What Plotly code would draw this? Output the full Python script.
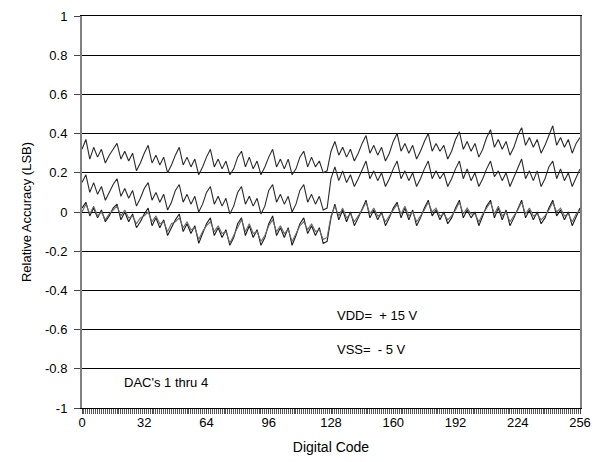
import plotly.graph_objects as go

CODES = list(range(0, 257, 2))

DAC1 = [
    0.32, 0.37, 0.27, 0.33, 0.28, 0.32, 0.25, 0.29,
    0.32, 0.35, 0.27, 0.31, 0.26, 0.30, 0.21, 0.25,
    0.30, 0.34, 0.25, 0.29, 0.24, 0.28, 0.20, 0.24,
    0.29, 0.33, 0.24, 0.28, 0.23, 0.27, 0.19, 0.23,
    0.28, 0.32, 0.23, 0.27, 0.22, 0.26, 0.19, 0.22,
    0.28, 0.31, 0.23, 0.28, 0.22, 0.26, 0.19, 0.23,
    0.28, 0.32, 0.23, 0.27, 0.22, 0.27, 0.19, 0.22,
    0.28, 0.31, 0.23, 0.28, 0.23, 0.26, 0.20, 0.21,
    0.31, 0.36, 0.29, 0.33, 0.28, 0.32, 0.26, 0.30,
    0.35, 0.39, 0.30, 0.34, 0.29, 0.33, 0.26, 0.30,
    0.36, 0.40, 0.31, 0.35, 0.30, 0.34, 0.27, 0.31,
    0.36, 0.40, 0.31, 0.35, 0.31, 0.34, 0.27, 0.31,
    0.37, 0.41, 0.32, 0.36, 0.31, 0.35, 0.28, 0.32,
    0.38, 0.42, 0.33, 0.37, 0.32, 0.36, 0.29, 0.33,
    0.39, 0.43, 0.34, 0.38, 0.33, 0.37, 0.30, 0.34,
    0.39, 0.44, 0.34, 0.38, 0.33, 0.37, 0.30, 0.35,
    0.38,
]

DAC2 = [
    0.15, 0.19, 0.10, 0.15, 0.09, 0.13, 0.06, 0.10,
    0.14, 0.17, 0.08, 0.12, 0.07, 0.11, 0.03, 0.07,
    0.12, 0.15, 0.06, 0.10, 0.05, 0.09, 0.01, 0.05,
    0.11, 0.14, 0.05, 0.09, 0.04, 0.08, 0.00, 0.04,
    0.10, 0.13, 0.04, 0.08, 0.03, 0.07, -0.01, 0.03,
    0.10, 0.13, 0.04, 0.08, 0.03, 0.07, -0.01, 0.03,
    0.11, 0.14, 0.05, 0.09, 0.04, 0.08, 0.00, 0.04,
    0.11, 0.14, 0.05, 0.09, 0.04, 0.08, 0.01, 0.02,
    0.17, 0.23, 0.16, 0.21, 0.15, 0.19, 0.13, 0.17,
    0.22, 0.26, 0.17, 0.21, 0.16, 0.20, 0.13, 0.17,
    0.22, 0.26, 0.17, 0.21, 0.16, 0.20, 0.13, 0.17,
    0.22, 0.26, 0.17, 0.21, 0.17, 0.20, 0.13, 0.17,
    0.22, 0.26, 0.17, 0.22, 0.16, 0.20, 0.13, 0.17,
    0.22, 0.26, 0.18, 0.21, 0.16, 0.20, 0.13, 0.18,
    0.22, 0.27, 0.17, 0.21, 0.16, 0.21, 0.13, 0.17,
    0.23, 0.26, 0.17, 0.22, 0.16, 0.20, 0.13, 0.18,
    0.22,
]

DAC3 = [
    0.02, 0.05, -0.02, 0.02, -0.03, 0.01, -0.05, -0.02,
    0.02, 0.04, -0.04, 0.00, -0.05, -0.01, -0.08, -0.05,
    -0.01, 0.02, -0.07, -0.03, -0.08, -0.04, -0.12, -0.08,
    -0.04, -0.01, -0.10, -0.06, -0.11, -0.07, -0.16, -0.11,
    -0.06, -0.03, -0.12, -0.08, -0.13, -0.09, -0.17, -0.13,
    -0.06, -0.03, -0.12, -0.07, -0.13, -0.09, -0.17, -0.13,
    -0.06, -0.02, -0.12, -0.08, -0.13, -0.08, -0.17, -0.12,
    -0.06, -0.03, -0.11, -0.07, -0.12, -0.08, -0.16, -0.15,
    -0.03, 0.04, -0.04, 0.01, -0.05, 0.00, -0.07, -0.03,
    0.02, 0.06, -0.03, 0.01, -0.04, 0.00, -0.07, -0.03,
    0.02, 0.05, -0.03, 0.02, -0.04, 0.01, -0.07, -0.03,
    0.02, 0.06, -0.02, 0.01, -0.04, 0.00, -0.06, -0.03,
    0.02, 0.06, -0.03, 0.01, -0.03, 0.00, -0.07, -0.02,
    0.03, 0.06, -0.03, 0.02, -0.04, 0.01, -0.07, -0.03,
    0.02, 0.06, -0.03, 0.01, -0.04, 0.00, -0.06, -0.03,
    0.02, 0.06, -0.02, 0.01, -0.04, 0.00, -0.07, -0.02,
    0.02,
]

DAC4 = [
    0.00, 0.04, -0.01, 0.03, -0.02, 0.00, -0.04, -0.01,
    0.01, 0.03, -0.02, 0.01, -0.03, -0.02, -0.06, -0.03,
    -0.02, 0.00, -0.05, -0.02, -0.06, -0.05, -0.10, -0.06,
    -0.05, -0.03, -0.08, -0.05, -0.09, -0.08, -0.14, -0.10,
    -0.07, -0.05, -0.10, -0.07, -0.11, -0.10, -0.16, -0.12,
    -0.08, -0.04, -0.10, -0.06, -0.11, -0.10, -0.15, -0.12,
    -0.07, -0.04, -0.10, -0.07, -0.11, -0.09, -0.15, -0.11,
    -0.07, -0.05, -0.09, -0.06, -0.10, -0.09, -0.14, -0.13,
    -0.02, 0.03, -0.02, 0.02, -0.03, -0.01, -0.05, -0.02,
    0.01, 0.05, -0.01, 0.02, -0.02, -0.01, -0.05, -0.02,
    0.01, 0.04, -0.01, 0.03, -0.02, 0.00, -0.05, -0.02,
    0.01, 0.05, 0.00, 0.02, -0.02, -0.01, -0.04, -0.02,
    0.01, 0.05, -0.01, 0.02, -0.01, -0.01, -0.05, -0.01,
    0.02, 0.05, -0.01, 0.03, -0.02, 0.00, -0.05, -0.02,
    0.01, 0.05, -0.01, 0.02, -0.02, -0.01, -0.04, -0.02,
    0.01, 0.05, 0.00, 0.02, -0.02, -0.01, -0.05, -0.01,
    0.01,
]

Y_TICKS = [1, 0.8, 0.6, 0.4, 0.2, 0, -0.2, -0.4, -0.6, -0.8, -1]
Y_LABELS = ["1", "0.8", "0.6", "0.4", "0.2", "0", "-0.2", "-0.4", "-0.6", "-0.8", "-1"]
X_TICKS = [0, 32, 64, 96, 128, 160, 192, 224, 256]

FONT = "Liberation Sans, Arial, sans-serif"

fig = go.Figure()
for ys, col in [(DAC1, "#2a2a2a"), (DAC2, "#2a2a2a"), (DAC3, "#1a1a1a"), (DAC4, "#6a6a6a")]:
    fig.add_trace(go.Scatter(x=CODES, y=ys, mode="lines",
                             line=dict(color=col, width=1.1), showlegend=False))

fig.add_annotation(x=130, y=-0.53, text="VDD=  + 15 V", showarrow=False,
                   xanchor="left", yanchor="middle", font=dict(size=13, color="black", family=FONT))
fig.add_annotation(x=130, y=-0.70, text="VSS=  - 5 V", showarrow=False,
                   xanchor="left", yanchor="middle", font=dict(size=13, color="black", family=FONT))
fig.add_annotation(x=20.5, y=-0.87, text="DAC's 1 thru 4", showarrow=False,
                   xanchor="left", yanchor="middle", font=dict(size=13, color="black", family=FONT))

fig.update_layout(
    width=602, height=462,
    margin=dict(l=74, r=30, t=8, b=62),
    paper_bgcolor="white", plot_bgcolor="white",
    font=dict(family=FONT, size=13, color="black"),
    xaxis=dict(range=[0, 256], tickvals=X_TICKS, ticktext=[str(v) for v in X_TICKS],
               automargin=False, ticklabeloverflow="allow",
               showgrid=False, zeroline=False, showline=True, linecolor="black",
               linewidth=1, mirror=True, ticks="outside", ticklen=5, tickcolor="#444",
               ticklabelstandoff=-3,
               minor=dict(dtick=1, tick0=0, ticks="outside", ticklen=5, tickcolor="#555",
                          tickwidth=1, showgrid=False),
               title=dict(text="Digital Code", standoff=13, font=dict(size=14)),
               tickfont=dict(size=13)),
    yaxis=dict(range=[-1, 1], tickvals=Y_TICKS, ticktext=Y_LABELS,
               automargin=False, ticklabeloverflow="allow",
               showgrid=True, gridcolor="black", gridwidth=1, zeroline=False,
               showline=True, linecolor="#808080", linewidth=2, mirror=True,
               ticks="outside", ticklen=6, tickcolor="#444", ticklabelstandoff=4,
               title=dict(text="Relative Accuracy (LSB)", standoff=10, font=dict(size=13)),
               tickfont=dict(size=13)),
)

fig.write_html("out.html")
